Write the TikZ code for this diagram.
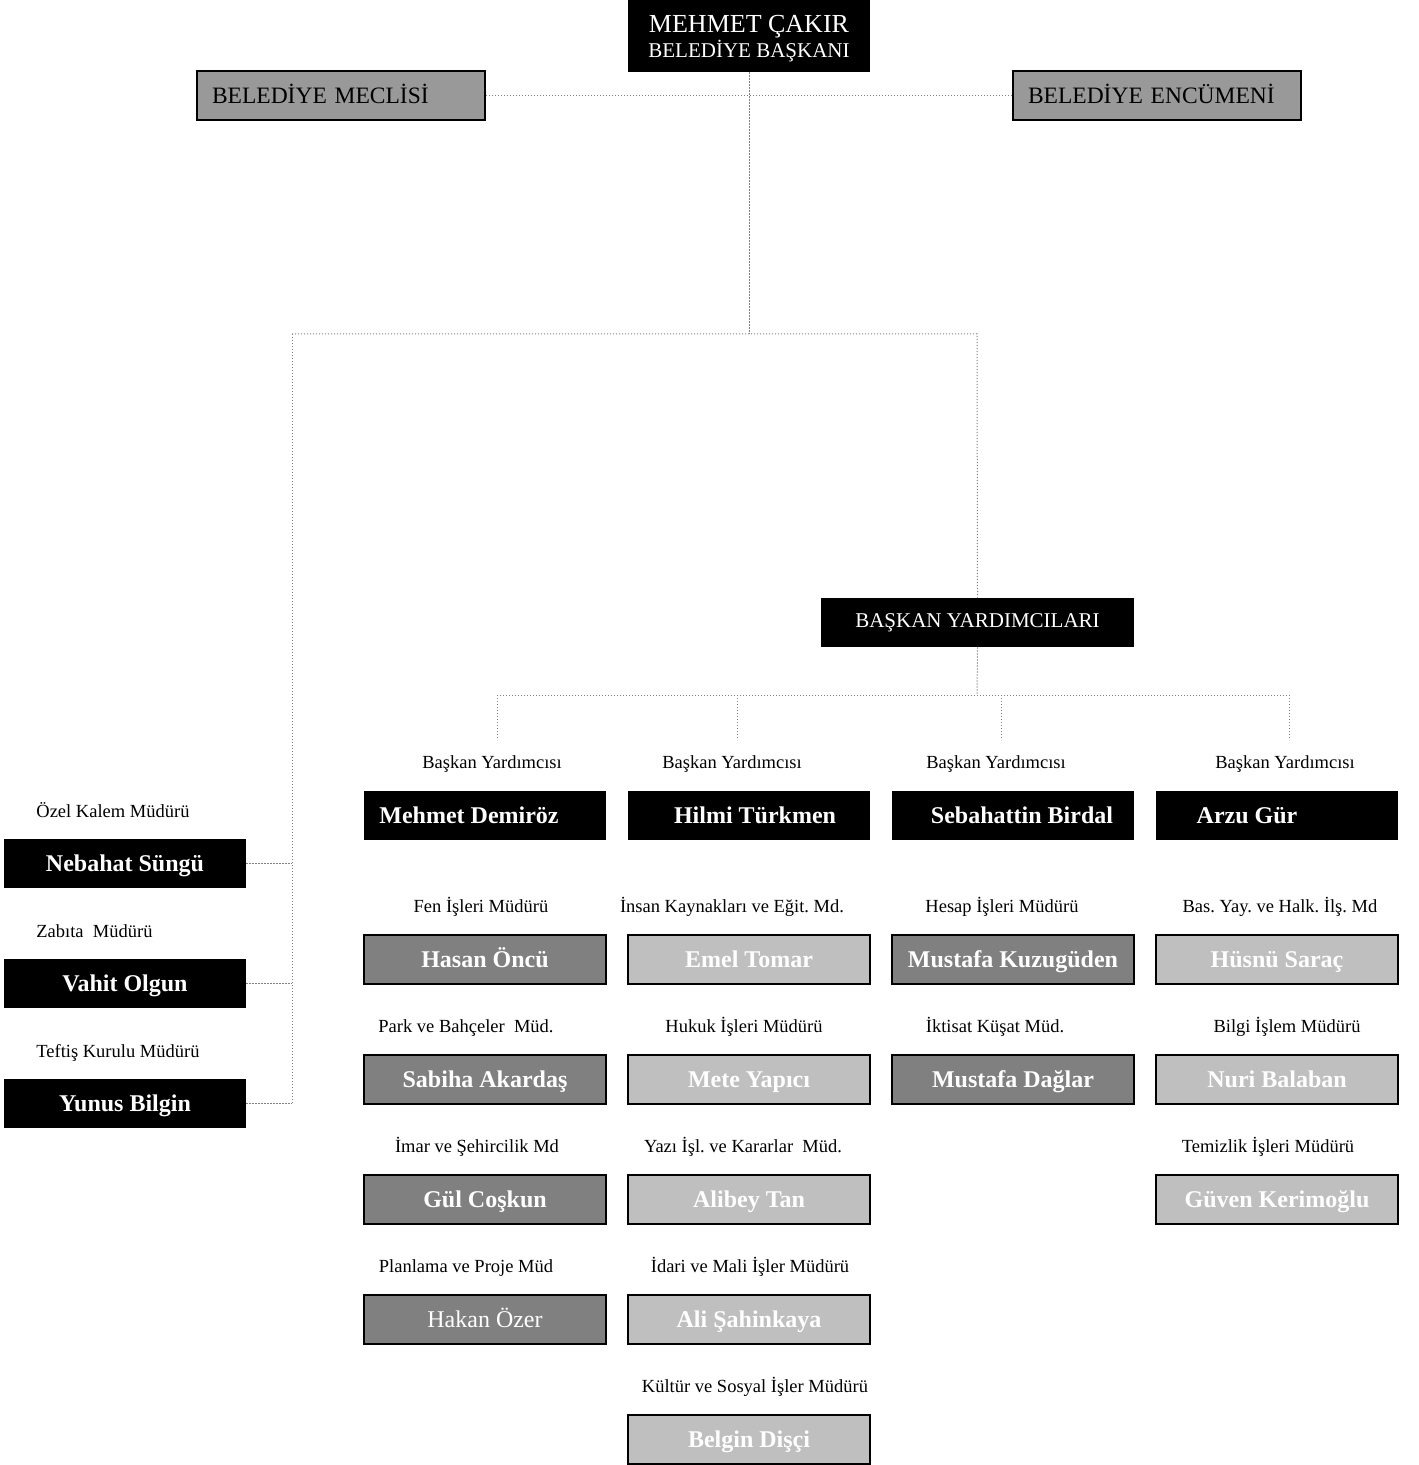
\documentclass[tikz,border=0pt]{standalone}
\usepackage{fontspec}
\setmainfont{Liberation Serif}
\usetikzlibrary{positioning}
\definecolor{koyugri}{rgb}{0.50,0.50,0.50}
\definecolor{acikgri}{rgb}{0.75,0.75,0.75}
\definecolor{meclisgri}{rgb}{0.60,0.60,0.60}
\definecolor{cizgigri}{rgb}{0.50,0.50,0.50}
\frenchspacing
\tikzset{
  kutu/.style={
    minimum width=121pt,
    minimum height=24.5pt,
    inner sep=0pt,
    text=white,
    text height=9pt,
    text depth=1pt,
    font=\fontsize{12}{14}\selectfont\bfseries
  },
  siyah/.style={
    kutu,
    fill=black
  },
  koyu/.style={
    kutu,
    fill=koyugri,
    draw=black,
    line width=1pt
  },
  acik/.style={
    kutu,
    fill=acikgri,
    draw=black,
    line width=1pt
  },
  kurul/.style={
    fill=meclisgri,
    draw=black,
    line width=1pt,
    minimum height=24.5pt,
    text width=129pt,
    inner xsep=7.5pt,
    inner ysep=0pt,
    align=left,
    text height=8.8pt,
    text depth=1pt,
    font=\fontsize{11.75}{14}\selectfont
  },
  isim/.style={
    inner sep=0pt,
    text=white,
    text height=9pt,
    text depth=1pt,
    font=\fontsize{12}{14}\selectfont\bfseries
  },
  unvan/.style={
    anchor=base,
    inner sep=0pt,
    font=\fontsize{9.25}{11}\selectfont
  },
  baglanti/.style={
    cizgigri,
    line width=0.5pt,
    dash pattern=on 0.6pt off 0.9pt
  }
}

\begin{document}
\begin{tikzpicture}[x=0.5pt,y=-0.5pt]
\useasboundingbox (0,0) rectangle (1418,1465);

% baskan ve kurullar
\node[fill=black,text=white,minimum width=121pt,minimum height=36pt,inner sep=0pt,align=center,
      font=\fontsize{10.5}{12.5}\selectfont] (baskan) at (749,36)
  {{\fontsize{13}{12.5}\selectfont\rule{0pt}{11pt}MEHMET ÇAKIR}\\BELEDİYE BAŞKANI};
\node[kurul] (meclis) at (341,95.5) {BELEDİYE MECLİSİ};
\node[kurul] (encumen) at (1157,95.5) {BELEDİYE ENCÜMENİ};
\node[fill=black,text=white,minimum width=156.5pt,minimum height=24.5pt,inner sep=0pt,
      font=\fontsize{10.5}{12.5}\selectfont] (yardimcilar) at (977.5,622.5) {BAŞKAN YARDIMCILARI};

\coordinate (sol) at (292,334);
\coordinate (sag) at (977,334);
\coordinate (dal) at (977,695);

% sol sutun
\node[unvan,anchor=base west] (ozelu) at (36,817) {Özel Kalem Müdürü};
\node[siyah] (ozel) at (125,863.5) {Nebahat Süngü};
\node[unvan,anchor=base west] (zabitau) at (36,937) {Zabıta~ Müdürü};
\node[siyah] (zabita) at (125,983.5) {Vahit Olgun};
\node[unvan,anchor=base west] (teftisu) at (36,1057) {Teftiş Kurulu Müdürü};
\node[siyah] (teftis) at (125,1103.5) {Yunus Bilgin};

% baskan yardimcilari
\node[unvan] (by1u) at (492,768) {Başkan Yardımcısı};
\node[unvan] (by2u) at (732,768) {Başkan Yardımcısı};
\node[unvan] (by3u) at (996,768) {Başkan Yardımcısı};
\node[unvan] (by4u) at (1285,768) {Başkan Yardımcısı};
\node[siyah] (by1) at (485,815.5) {};
\node[siyah] (by2) at (749,815.5) {};
\node[siyah] (by3) at (1013,815.5) {};
\node[siyah] (by4) at (1277,815.5) {};
\node[isim] (by1i) at (469,815.5) {Mehmet Demiröz};
\node[isim] (by2i) at (755,815.5) {Hilmi Türkmen};
\node[isim] (by3i) at (1022,815.5) {Sebahattin Birdal};
\node[isim] (by4i) at (1247,815.5) {Arzu Gür};

% mudurler, 1. sutun
\node[unvan] (m11u) at (481,912) {Fen İşleri Müdürü};
\node[koyu] (m11) at (485,959.5) {Hasan Öncü};
\node[unvan] (m12u) at (466,1032) {Park ve Bahçeler~ Müd.};
\node[koyu] (m12) at (485,1079.5) {Sabiha Akardaş};
\node[unvan] (m13u) at (477,1152) {İmar ve Şehircilik Md};
\node[koyu] (m13) at (485,1199.5) {Gül Coşkun};
\node[unvan] (m14u) at (466,1272) {Planlama ve Proje Müd};
\node[koyu,font=\fontsize{12}{14}\selectfont] (m14) at (485,1319.5) {Hakan Özer};

% 2. sutun
\node[unvan] (m21u) at (732,912) {İnsan Kaynakları ve Eğit. Md.};
\node[acik] (m21) at (749,959.5) {Emel Tomar};
\node[unvan] (m22u) at (744,1032) {Hukuk İşleri Müdürü};
\node[acik] (m22) at (749,1079.5) {Mete Yapıcı};
\node[unvan] (m23u) at (743,1152) {Yazı İşl. ve Kararlar~ Müd.};
\node[acik] (m23) at (749,1199.5) {Alibey Tan};
\node[unvan] (m24u) at (750,1272) {İdari ve Mali İşler Müdürü};
\node[acik] (m24) at (749,1319.5) {Ali Şahinkaya};
\node[unvan] (m25u) at (755,1392) {Kültür ve Sosyal İşler Müdürü};
\node[acik] (m25) at (749,1439.5) {Belgin Dişçi};

% 3. sutun
\node[unvan] (m31u) at (1002,912) {Hesap İşleri Müdürü};
\node[koyu] (m31) at (1013,959.5) {Mustafa Kuzugüden};
\node[unvan] (m32u) at (995,1032) {İktisat Küşat Müd.};
\node[koyu] (m32) at (1013,1079.5) {Mustafa Dağlar};

% 4. sutun
\node[unvan] (m41u) at (1280,912) {Bas. Yay. ve Halk. İlş. Md};
\node[acik] (m41) at (1277,959.5) {Hüsnü Saraç};
\node[unvan] (m42u) at (1287,1032) {Bilgi İşlem Müdürü};
\node[acik] (m42) at (1277,1079.5) {Nuri Balaban};
\node[unvan] (m43u) at (1268,1152) {Temizlik İşleri Müdürü};
\node[acik] (m43) at (1277,1199.5) {Güven Kerimoğlu};

% baglantilar
\draw[baglanti] (meclis.east) -- (encumen.west);
\draw[baglanti] (baskan.south) -- (baskan.south |- sol);
\draw[baglanti] (sol) -- (sag) -- (yardimcilar.north);
\draw[baglanti] (sol) -- (sol |- teftis.east);
\foreach \n in {ozel,zabita,teftis}
  \draw[baglanti] (\n.east) -- (sol |- \n.east);
\draw[baglanti] (yardimcilar.south) -- (dal);
\coordinate (d1) at (497,695);
\coordinate (d4) at (1289,695);
\draw[baglanti] (d1) -- (d4);
\foreach \x in {497,737,1001,1289}
  \draw[baglanti] (\x,695) -- (\x,740);
\end{tikzpicture}
\end{document}
